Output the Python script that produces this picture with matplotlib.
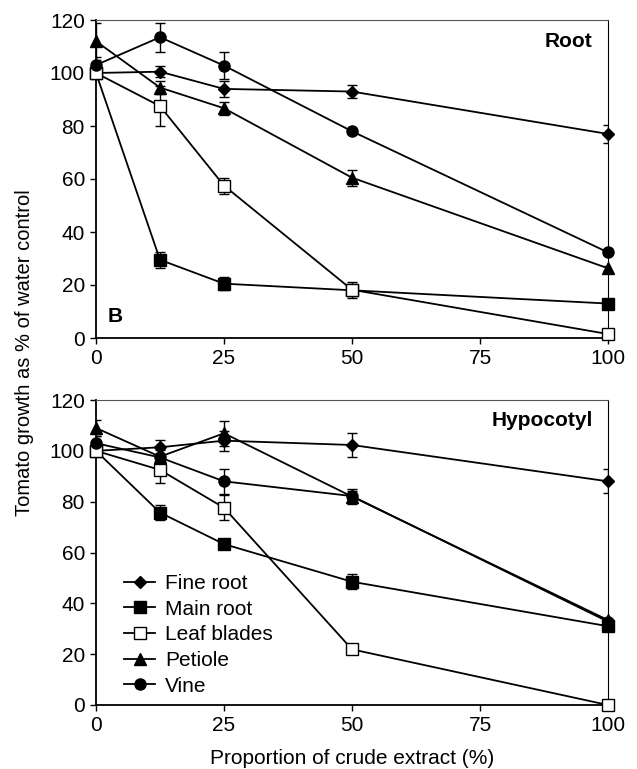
import matplotlib
matplotlib.use("Agg")
import matplotlib.pyplot as plt

plt.rcParams["font.family"] = ["Liberation Sans", "DejaVu Sans"]

# extract concentration (%)
conc = [0, 12.5, 25, 50, 100]
series_names = ["Fine root", "Main root", "Leaf blades", "Petiole", "Vine"]

# root growth, % of water control
root_fine = [100, 100.5, 94, 93, 77]
root_fine_err = [2, 2, 3, 2.5, 3.5]
root_main = [100, 29.5, 20.5, 18, 13]
root_main_err = [2, 3, 2.5, 1.5, 1]
root_leaf = [100, 87.5, 57.5, 18.2, 1.5]
root_leaf_err = [2, 7.5, 3, 3, 0.5]
root_petiole = [112, 94.5, 86.7, 60.5, 26.3]
root_petiole_err = [7, 2.5, 2.5, 3, 1]
root_vine = [103, 113.5, 102.8, 78, 32.3]
root_vine_err = [3, 5.5, 5, 1, 1]

# hypocotyl growth, % of water control
hyp_fine = [100, 101.4, 104, 102.3, 88]
hyp_fine_err = [2, 3, 4, 4.6, 4.7]
hyp_main = [100, 75.7, 63.3, 48.5, 31]
hyp_main_err = [2, 3, 2, 3, 2]
hyp_leaf = [100, 92.5, 77.6, 21.9, 0]
hyp_leaf_err = [2, 5, 5, 1.5, 0.5]
hyp_petiole = [109, 97.7, 106.9, 82, 33.4]
hyp_petiole_err = [3, 3, 5, 3, 1]
hyp_vine = [103, 97.4, 88, 82.2, 32.8]
hyp_vine_err = [3, 3, 5, 2, 1]

styles = [
    dict(marker="D", ms=6.5, mfc="black"),
    dict(marker="s", ms=8, mfc="black"),
    dict(marker="s", ms=8, mfc="white"),
    dict(marker="^", ms=8.5, mfc="black"),
    dict(marker="o", ms=8, mfc="black"),
]

FS = 15


def draw_panel(ax, values, errors, label_text):
    for name, y, e, st in zip(series_names, values, errors, styles):
        ax.errorbar(conc, y, yerr=e, fmt="none", ecolor="black", elinewidth=1.0,
                    capsize=3.5, capthick=1.0, zorder=2)
        ax.plot(conc, y, color="black", lw=1.3, mec="black", mew=1.0,
                label=name, zorder=3, clip_on=False, **st)
    ax.set_xlim(0, 100)
    ax.set_ylim(0, 120)
    ax.set_xticks([0, 25, 50, 75, 100])
    ax.set_yticks(range(0, 121, 20))
    ax.tick_params(direction="out", length=4, width=1.0, labelsize=FS,
                   pad=4, top=False, right=False)
    for side in ("left", "bottom"):
        ax.spines[side].set_linewidth(1.3)
    ax.spines["top"].set_linewidth(0.8)
    ax.spines["top"].set_color("#555555")
    ax.spines["right"].set_linewidth(0.8)
    ax.text(97, 112, label_text, ha="right", va="center", fontsize=FS,
            fontweight="bold")


fig = plt.figure(figsize=(6.37, 7.69), dpi=100)
ax1 = fig.add_axes([96 / 637, 1 - 338 / 769, 512 / 637, 318 / 769])
ax2 = fig.add_axes([96 / 637, 1 - 705 / 769, 512 / 637, 305 / 769])

draw_panel(ax1,
           [root_fine, root_main, root_leaf, root_petiole, root_vine],
           [root_fine_err, root_main_err, root_leaf_err, root_petiole_err, root_vine_err],
           "Root")
ax1.text(2.2, 8, "B", ha="left", va="center", fontsize=FS, fontweight="bold")

draw_panel(ax2,
           [hyp_fine, hyp_main, hyp_leaf, hyp_petiole, hyp_vine],
           [hyp_fine_err, hyp_main_err, hyp_leaf_err, hyp_petiole_err, hyp_vine_err],
           "Hypocotyl")
ax2.set_xlabel("Proportion of crude extract (%)", fontsize=FS, labelpad=10)
ax2.legend(loc="upper left", bbox_to_anchor=(0.055, 0.43), frameon=False,
           fontsize=FS, handlelength=1.5, handletextpad=0.45, labelspacing=0.32,
           borderpad=0, borderaxespad=0, numpoints=1)

fig.text(25 / 637, 1 - 353 / 769, "Tomato growth as % of water control",
         rotation=90, ha="center", va="center", fontsize=14.5)

fig.savefig("out.png", dpi=100)
